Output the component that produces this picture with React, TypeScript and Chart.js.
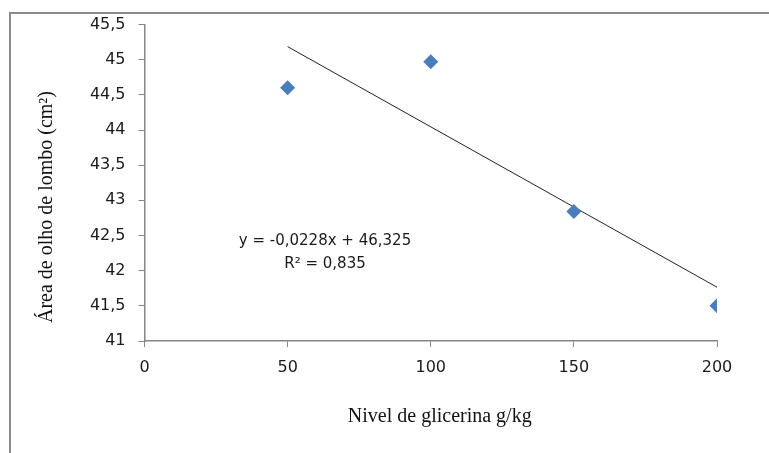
import React, { useEffect, useRef } from "react";
import { Chart, registerables } from "chart.js";

Chart.register(...registerables);

const glicerina = [50, 100, 150, 200];
const areaOlho = [44.6, 44.97, 42.84, 41.5];
const trendX = [50, 200];
const trendY = [45.185, 41.765];
const equationLines = ["y = -0,0228x + 46,325", "R² = 0,835"];
const xTitle = "Nivel de glicerina g/kg";
const yTitle = "Área de olho de lombo (cm²)";

const fmt = (v: number) => String(v).replace(".", ",");

export default function App() {
  const ref = useRef<HTMLCanvasElement | null>(null);
  useEffect(() => {
    if (!ref.current) return;
    const framePlugin = {
      id: "framePlugin",
      afterDraw(chart: any) {
        const ctx = chart.ctx;
        ctx.save();
        ctx.strokeStyle = "#8a8a8a";
        ctx.lineWidth = 2;
        ctx.strokeRect(10, 13, 800, 500);
        const xs = chart.scales.x;
        ctx.fillStyle = "#1a1a1a";
        ctx.font = "15px 'DejaVu Sans'";
        ctx.textAlign = "center";
        ctx.textBaseline = "middle";
        ctx.fillText(equationLines[0], 325, 241);
        ctx.fillText(equationLines[1], 325, 264);
        ctx.font = "20px 'Liberation Serif'";
        ctx.fillStyle = "#111";
        ctx.fillText(xTitle, (xs.left + xs.right) / 2 + 9, 417);
        ctx.translate(47, 207);
        ctx.rotate(-Math.PI / 2);
        ctx.fillText(yTitle, 0, 0);
        ctx.restore();
      },
    };
    const chart = new Chart(ref.current, {
      type: "scatter",
      data: {
        datasets: [
          {
            label: "dados",
            data: glicerina.map((x, i) => ({ x, y: areaOlho[i] })),
            pointStyle: "rectRot",
            pointRadius: 7.5,
            backgroundColor: "#4a7ebb",
            borderColor: "#4a7ebb",
            borderWidth: 0,
            showLine: false,
          },
          {
            label: "tendência",
            data: trendX.map((x, i) => ({ x, y: trendY[i] })),
            showLine: true,
            borderColor: "#222",
            borderWidth: 1,
            pointRadius: 0,
          },
        ],
      },
      options: {
        responsive: false,
        animation: false,
        layout: { padding: { left: 0, top: 24.5, right: 52, bottom: 0 } },
        plugins: { legend: { display: false }, tooltip: { enabled: false } },
        scales: {
          x: {
            type: "linear",
            min: 0,
            max: 200,
            afterFit: (s: any) => {
              s.height = 112;
            },
            ticks: {
              stepSize: 50,
              color: "#1a1a1a",
              font: { family: "'DejaVu Sans'", size: 16 },
              padding: 11,
            },
            grid: {
              drawOnChartArea: false,
              color: "#868686",
              tickLength: 6,
            },
            border: { color: "#868686", width: 1.5 },
          },
          y: {
            type: "linear",
            min: 41,
            max: 45.5,
            afterFit: (s: any) => {
              s.width = 144.5;
            },
            ticks: {
              stepSize: 0.5,
              color: "#1a1a1a",
              font: { family: "'DejaVu Sans'", size: 16 },
              padding: 13,
              callback: (v: any) => fmt(Number(v)),
            },
            grid: {
              drawOnChartArea: false,
              color: "#868686",
              tickLength: 6,
            },
            border: { color: "#868686", width: 1.5 },
          },
        },
      },
      plugins: [framePlugin],
    } as any);
    return () => chart.destroy();
  }, []);
  return (
    <div style={{ position: "absolute", left: 0, top: 0, width: 769, height: 453, background: "#fff" }}>
      <canvas ref={ref} width={769} height={453} style={{ display: "block" }} />
    </div>
  );
}
